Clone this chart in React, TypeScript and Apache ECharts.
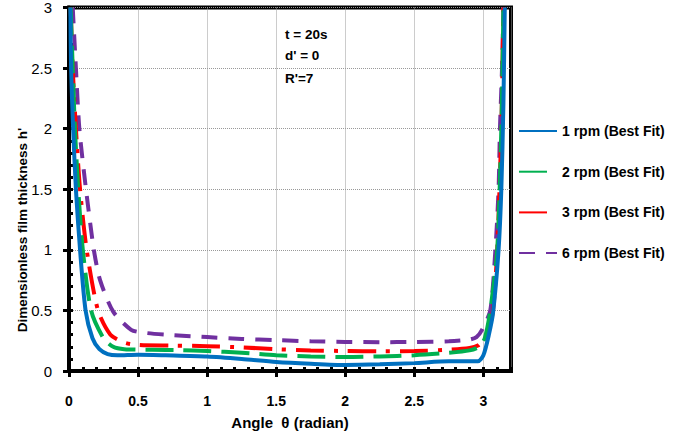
import React, { useEffect, useRef } from "react";
import * as echarts from "echarts";

const seriesNames = ["1 rpm (Best Fit)", "2 rpm (Best Fit)", "3 rpm (Best Fit)", "6 rpm (Best Fit)"];

const theta1 = [0.01, 0.015, 0.03, 0.05, 0.08, 0.12, 0.17, 0.22, 0.28, 0.35, 0.5, 0.7, 1.0, 1.25, 1.5, 1.75, 2.0, 2.25, 2.5, 2.75, 2.96, 3.0, 3.04, 3.07, 3.11, 3.13, 3.145, 3.155];
const h1 = [3.0, 2.5, 2.0, 1.5, 1.0, 0.5, 0.27, 0.18, 0.14, 0.13, 0.135, 0.13, 0.12, 0.1, 0.075, 0.06, 0.05, 0.055, 0.065, 0.08, 0.08, 0.13, 0.3, 0.48, 1.0, 1.5, 2.2, 3.0];

const theta2 = [0.012, 0.027, 0.043, 0.067, 0.1, 0.16, 0.25, 0.32, 0.4, 0.6, 0.8, 1.0, 1.25, 1.5, 1.75, 2.0, 2.25, 2.5, 2.75, 2.9, 2.97, 3.01, 3.05, 3.1, 3.13, 3.145];
const h2 = [3.0, 2.5, 2.0, 1.5, 1.0, 0.5, 0.27, 0.2, 0.18, 0.175, 0.172, 0.165, 0.15, 0.13, 0.12, 0.115, 0.12, 0.13, 0.15, 0.17, 0.2, 0.27, 0.5, 1.0, 2.0, 3.0];

const theta3 = [0.012, 0.027, 0.05, 0.08, 0.128, 0.21, 0.3, 0.4, 0.5, 0.75, 1.0, 1.25, 1.5, 1.75, 2.0, 2.25, 2.5, 2.75, 2.9, 2.96, 3.0, 3.03, 3.07, 3.1, 3.13, 3.145];
const h3 = [3.0, 2.5, 2.0, 1.5, 1.0, 0.5, 0.3, 0.235, 0.215, 0.21, 0.205, 0.195, 0.18, 0.17, 0.165, 0.163, 0.165, 0.175, 0.19, 0.21, 0.26, 0.31, 0.5, 1.0, 2.0, 3.0];

const theta6 = [0.027, 0.05, 0.075, 0.123, 0.18, 0.225, 0.32, 0.45, 0.55, 0.7, 1.0, 1.25, 1.5, 1.75, 2.0, 2.25, 2.5, 2.75, 2.9, 2.95, 2.99, 3.05, 3.087, 3.11, 3.12, 3.135, 3.145];
const h6 = [3.0, 2.5, 2.0, 1.5, 1.0, 0.75, 0.49, 0.34, 0.315, 0.3, 0.28, 0.265, 0.255, 0.245, 0.24, 0.238, 0.24, 0.245, 0.26, 0.28, 0.34, 0.5, 1.0, 1.5, 2.0, 2.5, 3.0];

const annotations = ["t = 20s", "d' = 0", "R'=7"];
const xAxisTitle = "Angle  θ (radian)";
const yAxisTitle = "Dimensionless film thickness h'";

const colors = ["#0070C0", "#00B050", "#FF0000", "#7030A0"];

const pairs = (xs: number[], ys: number[]) => xs.map((x, i) => [x, ys[i]]);

export default function App() {
  const ref = useRef<HTMLDivElement>(null);
  useEffect(() => {
    if (!ref.current) return;
    const chart = echarts.init(ref.current, null, { renderer: "svg" });
    const font = "'Liberation Sans', Arial, sans-serif";
    const lineW = 4;
    const dashes: any[] = ["solid", [28, 10], [28, 10, 4, 10], [16, 11]];
    const data = [pairs(theta1, h1), pairs(theta2, h2), pairs(theta3, h3), pairs(theta6, h6)];
    const option: any = {
      animation: false,
      backgroundColor: "#fff",
      grid: {
        left: 69,
        top: 7,
        right: 174,
        bottom: 64,
        show: true,
        borderColor: "#000",
        borderWidth: 4,
        containLabel: false,
      },
      legend: {
        orient: "vertical",
        left: 518,
        top: 124,
        padding: 0,
        itemWidth: 38,
        itemHeight: 14,
        itemGap: 26.7,
        data: seriesNames,
        itemStyle: { opacity: 0, color: "transparent", borderWidth: 0 },
        textStyle: { fontFamily: font, fontWeight: "bold", fontSize: 14, color: "#000" },
      },
      xAxis: [
        {
          type: "value",
          min: 0,
          max: 3.2,
          interval: 0.5,
          axisLine: { show: true, lineStyle: { color: "#000", width: 4 } },
          axisTick: { show: true, inside: false, length: 6, lineStyle: { color: "#000", width: 3 } },
          axisLabel: { margin: 23, fontFamily: font, fontWeight: "bold", fontSize: 14, color: "#000", showMaxLabel: false },
          splitLine: { show: true, lineStyle: { color: "#999", type: "dotted", width: 1 } },
        },
        {
          type: "value",
          min: 0,
          max: 3.2,
          interval: 0.1,
          position: "bottom",
          axisLine: { show: false },
          axisTick: { show: true, inside: true, length: 4, lineStyle: { color: "#000", width: 3 } },
          axisLabel: { show: false },
          splitLine: { show: false },
        },
      ],
      yAxis: [
        {
          type: "value",
          min: 0,
          max: 3,
          interval: 0.5,
          axisLine: { show: true, lineStyle: { color: "#000", width: 4 } },
          axisTick: { show: true, inside: false, length: 6, lineStyle: { color: "#000", width: 3 } },
          axisLabel: { margin: 17, fontFamily: font, fontSize: 15, color: "#000" },
          splitLine: { show: true, lineStyle: { color: "#999", type: "dotted", width: 1 } },
        },
        {
          type: "value",
          min: 0,
          max: 3,
          interval: 0.1,
          position: "left",
          axisLine: { show: false },
          axisTick: { show: true, inside: true, length: 4, lineStyle: { color: "#000", width: 3 } },
          axisLabel: { show: false },
          splitLine: { show: false },
        },
      ],
      series: seriesNames.map((name, i) => ({
        name,
        type: "line",
        data: data[i],
        showSymbol: false,
        symbol: "none",
        smooth: 0.25,
        clip: true,
        color: colors[i],
        lineStyle: { color: colors[i], width: lineW, type: dashes[i], cap: "butt" },
        z: 10 - i,
      })),
      graphic: [
        ...annotations.map((t, i) => ({
          type: "text",
          left: 285,
          top: [27, 48, 71][i],
          style: { text: t, fontFamily: font, fontWeight: "bold", fontSize: 13.5, fill: "#000" },
        })),
        {
          type: "text",
          x: 290,
          y: 422,
          style: { text: xAxisTitle, fontFamily: font, fontWeight: "bold", fontSize: 15, fill: "#000", align: "center", verticalAlign: "middle" },
        },
        {
          type: "text",
          x: 22,
          y: 230,
          rotation: Math.PI / 2,
          style: { text: yAxisTitle, fontFamily: font, fontWeight: "bold", fontSize: 13.5, fill: "#000", align: "center", verticalAlign: "middle" },
        },
      ],
    };
    chart.setOption(option);
    return () => chart.dispose();
  }, []);
  return <div ref={ref} style={{ position: "fixed", left: 0, top: 0, width: 685, height: 435 }} />;
}
